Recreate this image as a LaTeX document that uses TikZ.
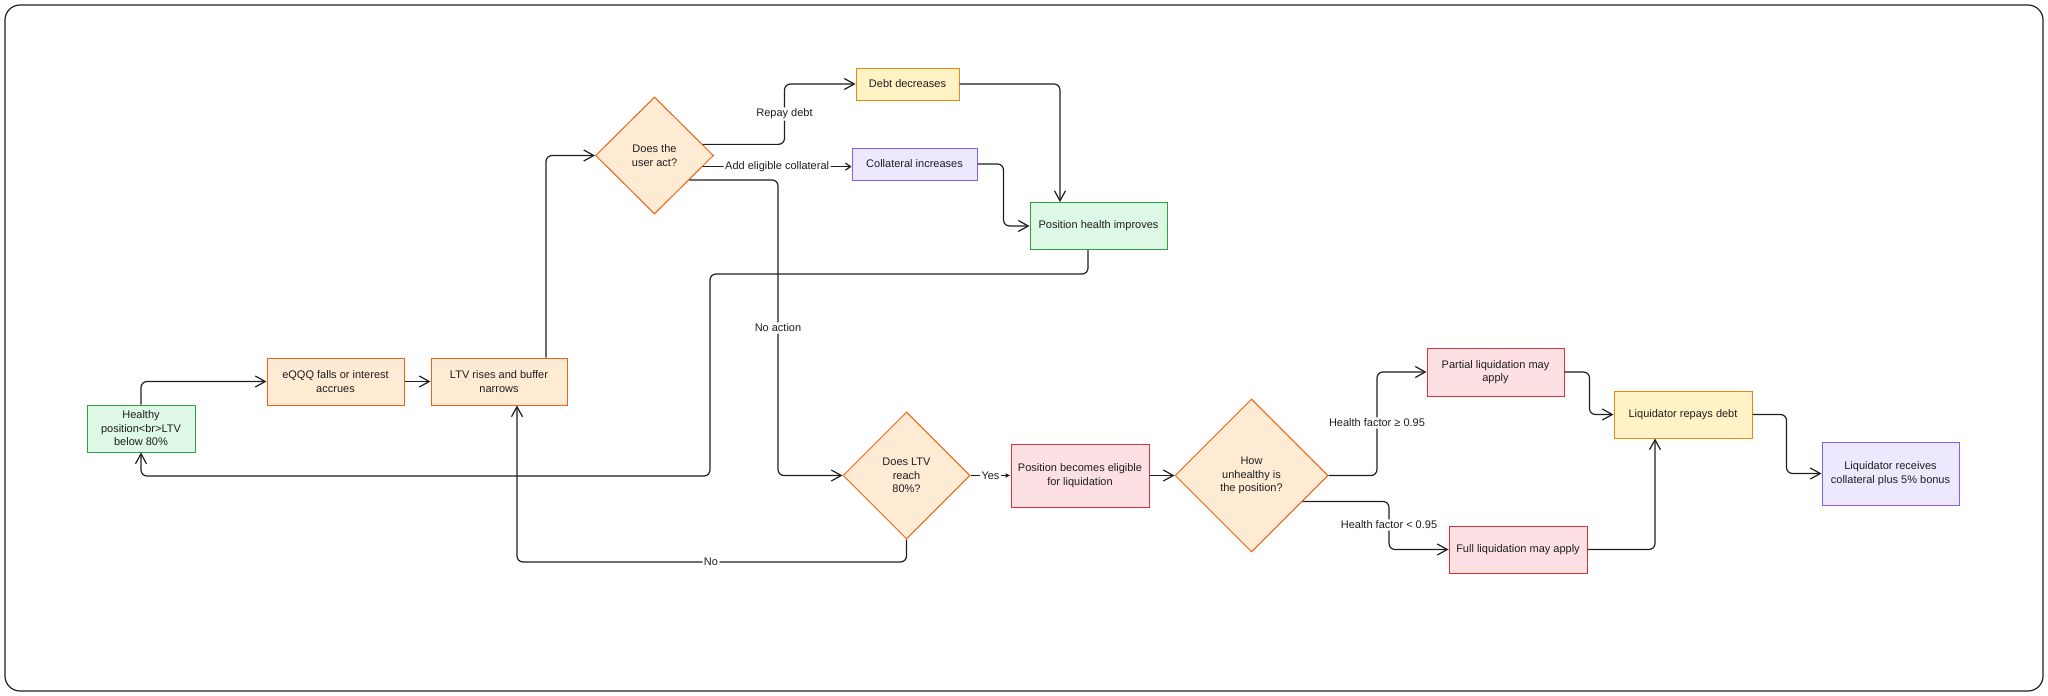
\documentclass[tikz,border=0pt]{standalone}
\usepackage{fontspec}
\setmainfont{Liberation Sans}
\usepackage{tikz}
\usetikzlibrary{arrows.meta,shapes.geometric,positioning}

\definecolor{ink}{HTML}{1E1E1E}
\definecolor{grfill}{HTML}{DDF8E5}
\definecolor{grline}{HTML}{2F9E44}
\definecolor{orfill}{HTML}{FFEBD4}
\definecolor{orline}{HTML}{EC6413}
\definecolor{yefill}{HTML}{FFF2C4}
\definecolor{yeline}{HTML}{E88A10}
\definecolor{pufill}{HTML}{ECE8FE}
\definecolor{puline}{HTML}{8B5CF6}
\definecolor{refill}{HTML}{FDE0E3}
\definecolor{reline}{HTML}{E03131}

\begin{document}
\begin{tikzpicture}[x=1pt, y=-1pt, font=\fontsize{11}{13.5}\selectfont, text=ink,
    block/.style={rectangle, draw, line width=1pt, align=center, inner sep=2pt, minimum height=47pt},
    decision/.style={diamond, draw=orline, fill=orfill, line width=1pt, align=center, inner sep=0pt},
    arrow/.style={-{Straight Barb[length=10pt,width=11pt]}, draw=ink, line width=1.2pt, rounded corners=6pt},
    short arrow/.style={arrow, -{Straight Barb[length=5pt,width=7pt]}},
    yes arrow/.style={arrow, -{Latex[length=5pt,width=5pt]}},
    lbl/.style={fill=white, inner sep=1.5pt}]

\useasboundingbox (0,0) rectangle (2048,696);
\draw[ink, line width=1.2pt, rounded corners=15pt] (5,5) rectangle (2043,691);

% left part
\node[block, draw=grline, fill=grfill, minimum width=108pt] (healthy) at (141,428.5) {Healthy\\position<br>LTV\\below 80\%};
\node[block, draw=orline, fill=orfill, minimum width=137pt] (eqqq) at (335.5,381.5) {eQQQ falls or interest\\accrues};
\node[block, draw=orline, fill=orfill, minimum width=136pt] (ltv) at (499,381.5) {LTV rises and buffer\\narrows};

% user action
\node[decision, minimum width=118pt, minimum height=117pt] (act) at (654.5,155.5) {Does the\\user act?};
\node[block, draw=yeline, fill=yefill, minimum width=103pt, minimum height=32pt] (debt) at (907.5,84) {Debt decreases};
\node[block, draw=puline, fill=pufill, minimum width=125pt, minimum height=32pt] (coll) at (914.5,164) {Collateral increases};
\node[block, draw=grline, fill=grfill, minimum width=137pt] (health) at (1098.5,226) {Position health improves};

% liquidation
\node[decision, minimum width=127pt, minimum height=127pt] (reach) at (906.5,475.5) {Does LTV\\reach\\80\%?};
\node[block, draw=reline, fill=refill, minimum width=138pt, minimum height=63pt] (elig) at (1080,475.5) {Position becomes eligible\\for liquidation};
\node[decision, minimum width=153pt, minimum height=153pt] (how) at (1251.5,475.5) {How\\unhealthy is\\the position?};
\node[block, draw=reline, fill=refill, minimum width=137pt, minimum height=48pt] (partial) at (1495.5,372) {Partial liquidation may\\apply};
\node[block, draw=reline, fill=refill, minimum width=138pt] (full) at (1518,549.5) {Full liquidation may apply};
\node[block, draw=yeline, fill=yefill, minimum width=138pt] (repays) at (1683,414.5) {Liquidator repays debt};
\node[block, draw=puline, fill=pufill, minimum width=137pt, minimum height=63pt] (receives) at (1890.5,473.5) {Liquidator receives\\collateral plus 5\% bonus};

\draw[arrow] (healthy.north) |- (eqqq.west);
\draw[arrow] (eqqq.east) -- (ltv.west);
\draw[arrow] ([xshift=47pt]ltv.north) |- (act.west);
\draw[arrow] (act.13) -| (784.5,114) node[lbl] {Repay debt} |- (debt.west);
\draw[short arrow] (act.-13) -- node[lbl] {Add eligible collateral} (act.-13 -| coll.west);
\draw[arrow] (act.-35) -| (778,328) node[lbl] {No action} |- (reach.west);
\draw[arrow] (debt.east) -| ([xshift=-38.5pt]health.north);
\draw[arrow] (coll.east) -- ++(26,0) |- (health.west);
\draw[arrow] ([xshift=-10.5pt]health.south) |- (710,274) -- (710,476) -| (healthy.south);
\draw[yes arrow] (reach.east) -- node[lbl] {Yes} (elig.west);
\draw[arrow] (reach.south) |- (711,562) node[lbl] {No} -| ([xshift=18pt]ltv.south);
\draw[arrow] (elig.east) -- (how.west);
\draw[arrow] (how.east) -| (1377,423) node[lbl] {Health factor ≥ 0.95} |- (partial.west);
\draw[arrow] (how.-27) -| (1389,525) node[lbl] {Health factor < 0.95} |- (full.west);
\draw[arrow] (partial.east) -- ++(25,0) |- (repays.west);
\draw[arrow] (full.east) -| ([xshift=-28pt]repays.south);
\draw[arrow] (repays.east) -- ++(34,0) |- (receives.west);

\end{tikzpicture}
\end{document}
